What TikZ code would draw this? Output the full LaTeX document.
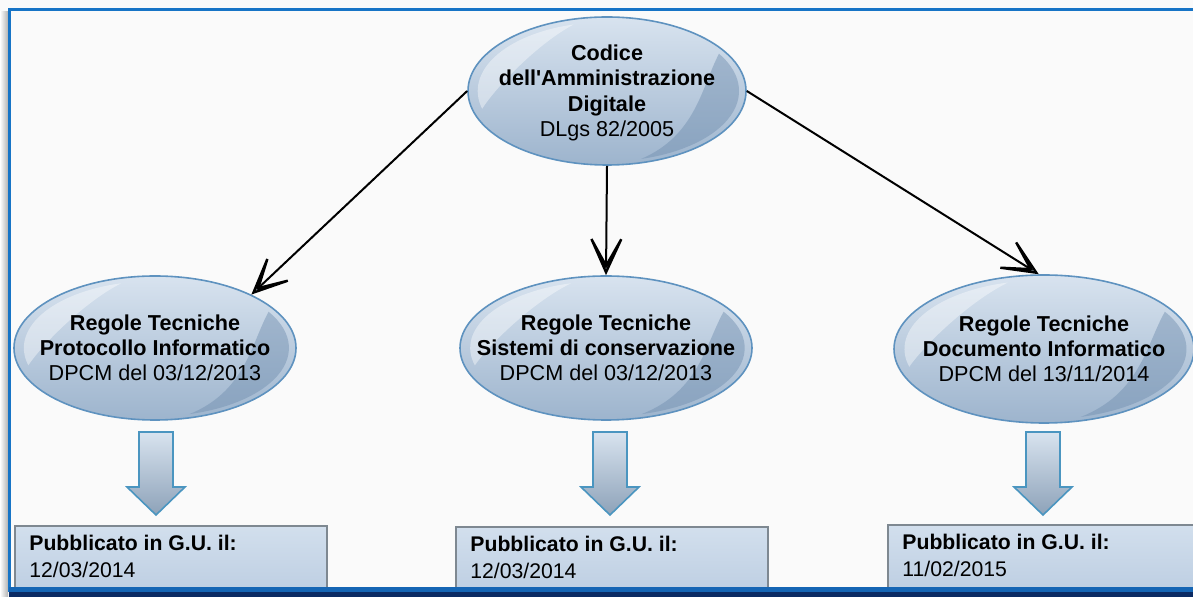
\documentclass[tikz,border=0pt]{standalone}
\usepackage{fontspec}
\setmainfont{Liberation Sans}
\usetikzlibrary{arrows.meta,calc,shapes.geometric}

\definecolor{framblue}{HTML}{1774C6}
\definecolor{bandblue}{HTML}{1565B4}
\definecolor{bandnavy}{HTML}{0B2A63}
\definecolor{elltop}{HTML}{D8E3EF}
\definecolor{ellbot}{HTML}{9DB4CD}
\definecolor{ellline}{HTML}{5E92BF}
\definecolor{ellcres}{HTML}{6F8DAE}
\definecolor{boxtop}{HTML}{D2DFED}
\definecolor{boxbot}{HTML}{B9CBE0}
\definecolor{boxline}{HTML}{7E8891}
\definecolor{arrline}{HTML}{4A95C0}

\tikzset{
  ellnode/.style={ellipse, draw=ellline, line width=0.8pt, top color=elltop,
    bottom color=ellbot, inner sep=0pt,
    path picture={
      \begin{scope}[shift={(path picture bounding box.center)},
          x={($(path picture bounding box.east)-(path picture bounding box.center)$)},
          y={($(path picture bounding box.north)-(path picture bounding box.center)$)}]
        \fill[ellcres, opacity=0.45] (32:0.95) arc[start angle=32, end angle=-75, radius=0.95]
          .. controls (0.64,-0.6) and (0.68,0.05) .. cycle;
        \fill[white, opacity=0.4] (105:0.93) arc[start angle=105, end angle=195, radius=0.93]
          .. controls (-0.8,0.05) and (-0.5,0.64) .. cycle;
      \end{scope}}},
  elltext/.style={align=center, inner sep=0pt, font=\fontsize{10.8}{12.6}\selectfont},
  link/.style={line width=1pt,
    -{Stealth[length=30pt, width=27pt, inset=24pt, fill=ellbot!60, line width=1.2pt]}},
  pubbox/.style={draw=boxline, line width=0.8pt, top color=boxtop, bottom color=boxbot,
    anchor=north west, minimum height=40pt, inner sep=0pt},
  pubtext/.style={align=left, inner sep=0pt, anchor=north west,
    font=\fontsize{10.6}{13.5}\selectfont},
  blockarr/.style={draw=arrline, line width=0.8pt, top color=elltop, bottom color=ellbot!90!black}
}

\begin{document}
\begin{tikzpicture}[x=0.5pt, y=-0.5pt]
  \useasboundingbox (0,0) rectangle (1193,597);
  \fill[white!98!black] (0,0) rectangle (1193,597);

  % frame
  \shade[left color=white, right color=black!30] (0,12) rectangle (8,597);
  \draw[framblue, line width=1.5pt] (9,592) -- (9,10) -- (1193,10);

  % ellipses
  \node[ellnode, minimum width=139pt, minimum height=74pt] (cad) at (607,91) {};
  \node[elltext] (cad-t) at ([yshift=-1pt]cad) {\textbf{Codice}\\\textbf{dell\textquotesingle Amministrazione}\\\textbf{Digitale}\\DLgs 82/2005};

  \node[ellnode, minimum width=141pt, minimum height=72pt] (rtpi) at (155,348) {};
  \node[elltext] (rtpi-t) at (rtpi) {\textbf{Regole Tecniche}\\\textbf{Protocollo Informatico}\\DPCM del 03/12/2013};

  \node[ellnode, minimum width=146pt, minimum height=72pt] (rtsc) at (606,348) {};
  \node[elltext] (rtsc-t) at (rtsc) {\textbf{Regole Tecniche}\\\textbf{Sistemi di conservazione}\\DPCM del 03/12/2013};

  \node[ellnode, minimum width=150pt, minimum height=74pt] (rtdi) at (1044,349) {};
  \node[elltext] (rtdi-t) at (rtdi) {\textbf{Regole Tecniche}\\\textbf{Documento Informatico}\\DPCM del 13/11/2014};

  % connectors
  \draw[link] (cad.west) -- (rtpi.29);
  \draw[link] (cad.south) -- (rtsc.north);
  \draw[link] (cad.east) -- (rtdi.94);

  % block arrows
  \foreach \ax in {156,610,1043}
    \draw[blockarr] ({\ax-17},432) -- ({\ax+17},432) -- ({\ax+17},487) -- ({\ax+29},487)
      -- (\ax,515) -- ({\ax-29},487) -- ({\ax-17},487) -- cycle;

  % boxes
  \node[pubbox, minimum width=156pt] (gupi) at (14,525) {};
  \node[pubtext] (gupi-t) at ([xshift=7.5pt, yshift=-5pt]gupi.north west) {\textbf{Pubblicato in G.U. il:}\\12/03/2014};

  \node[pubbox, minimum width=156pt] (gusc) at (455,526) {};
  \node[pubtext] (gusc-t) at ([xshift=7.5pt, yshift=-5pt]gusc.north west) {\textbf{Pubblicato in G.U. il:}\\12/03/2014};

  \node[pubbox, minimum width=160pt] (gudi) at (887,524) {};
  \node[pubtext] (gudi-t) at ([xshift=7.5pt, yshift=-5pt]gudi.north west) {\textbf{Pubblicato in G.U. il:}\\11/02/2015};

  % bottom band
  \fill[bandblue] (9,587) rectangle (1193,592);
  \fill[bandnavy] (9,592) rectangle (1193,597);
\end{tikzpicture}
\end{document}
